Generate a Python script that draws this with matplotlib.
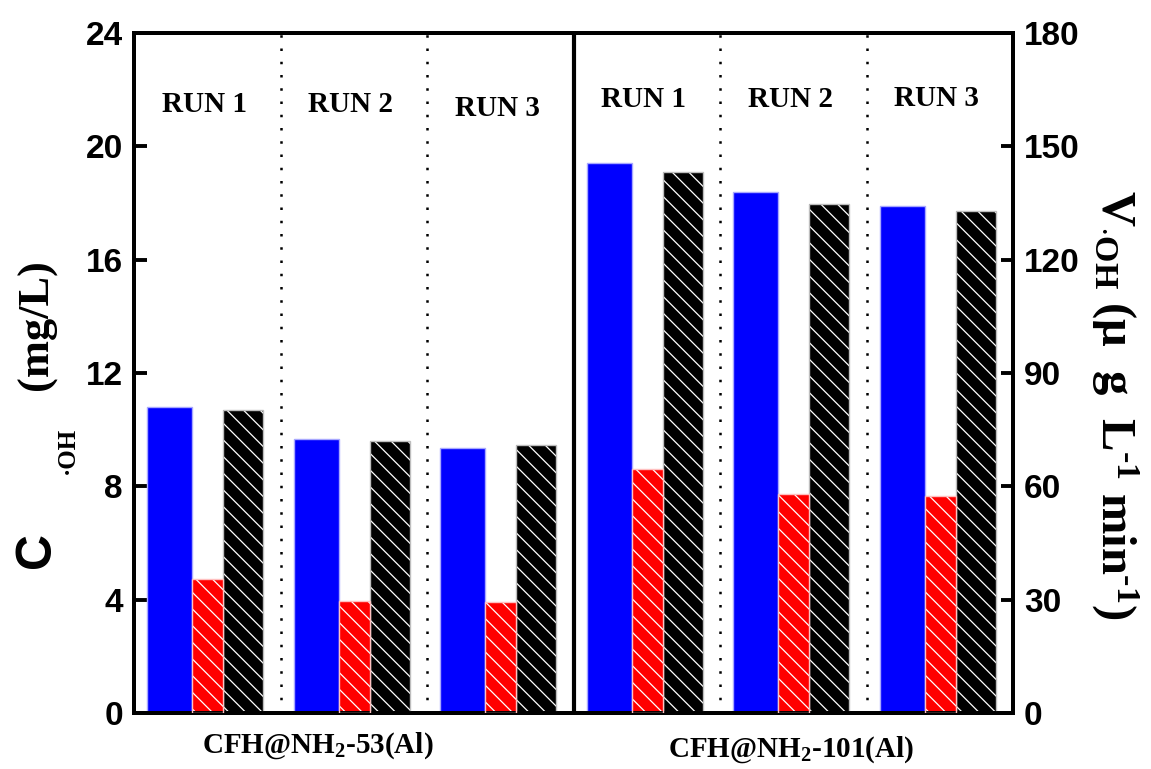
import matplotlib.pyplot as plt
import numpy as np

plt.rcParams['font.family'] = 'Liberation Sans'
plt.rcParams['font.weight'] = 'bold'
plt.rcParams['mathtext.fontset'] = 'custom'
plt.rcParams['mathtext.rm'] = 'Liberation Serif:bold'
plt.rcParams['mathtext.it'] = 'Liberation Serif:bold'
plt.rcParams['mathtext.bf'] = 'Liberation Serif:bold'
plt.rcParams['hatch.linewidth'] = 0.9

runs = ['RUN 1', 'RUN 2', 'RUN 3', 'RUN 1', 'RUN 2', 'RUN 3']
materials = ['CFH@NH$_2$-53(Al)', 'CFH@NH$_2$-101(Al)']
conc_blue = [10.80, 9.67, 9.34, 19.40, 18.40, 17.90]    # mg/L
conc_black = [10.70, 9.61, 9.46, 19.08, 17.97, 17.72]   # mg/L
rate_red = [35.5, 29.6, 29.5, 64.6, 58.1, 57.5]         # ug L-1 min-1

W, H = 1151, 769
fig = plt.figure(figsize=(W / 100, H / 100), dpi=100)
ax = fig.add_axes([134 / W, 1 - 713 / H, (1013 - 134) / W, (713 - 33) / H])
ax2 = ax.twinx()

x = np.arange(len(runs))
serif = 'Liberation Serif'

ax.bar(x + 0.089, conc_blue, width=0.307, align='edge', color='#0000ff',
       edgecolor='#a8a8ff', linewidth=1.0, zorder=2)

# hatched bars: white hatch first, then a grey outline on top
ax.bar(x + 0.608, conc_black, width=0.273, align='edge', color='black',
       edgecolor='white', hatch='\\\\', linewidth=0, zorder=2)
ax.bar(x + 0.608, conc_black, width=0.273, align='edge', fill=False,
       edgecolor='#bdbdbd', linewidth=1.0, zorder=3)
ax2.bar(x + 0.396, rate_red, width=0.212, align='edge', color='#ff0000',
        edgecolor='white', hatch='\\\\', linewidth=0, zorder=2)
ax2.bar(x + 0.396, rate_red, width=0.212, align='edge', fill=False,
        edgecolor='#ffc0c0', linewidth=1.0, zorder=3)

# run separators
for xs in [1, 2, 4, 5]:
    ax.axvline(xs, color='black', linestyle=(0, (1, 4.3)), linewidth=1.8, zorder=1)
ax.axvline(3, color='black', linewidth=3, zorder=4)

ax.set_xlim(0, 6)
ax.set_ylim(0, 24)
ax2.set_ylim(0, 180)
ax.set_yticks(np.arange(0, 25, 4))
ax2.set_yticks(np.arange(0, 181, 30))
ax.set_xticks([])

for a in (ax, ax2):
    for s in a.spines.values():
        s.set_linewidth(2.8)
ax.tick_params(axis='y', direction='in', length=9, width=2.8, labelsize=24, pad=8)
ax2.tick_params(axis='y', direction='in', length=9, width=2.8, labelsize=24, pad=8)

run_y = [21.46, 21.46, 21.35, 21.64, 21.64, 21.7]
for i, r in enumerate(runs):
    ax.text(i + 0.48, run_y[i], r, family=serif, fontsize=21, fontweight='bold',
            ha='center', va='center')

# group names under the axis
fig.text(318 / W, 1 - 746 / H, materials[0], family=serif, fontsize=21,
         fontweight='bold', ha='center', va='center')
fig.text(791 / W, 1 - 750 / H, materials[1], family=serif, fontsize=21,
         fontweight='bold', ha='center', va='center')

# left axis title built from pieces
fig.text(37 / W, 1 - 550 / H, 'C', fontsize=36, fontweight='bold',
         rotation=90, ha='center', va='center')
fig.text(67 / W, 1 - 450 / H, '\u00b7OH', family=serif, fontsize=18,
         fontweight='bold', rotation=90, ha='center', va='center')
fig.text(37 / W, 1 - 325 / H, '(mg/L)', family=serif, fontsize=32,
         fontweight='bold', rotation=90, ha='center', va='center')

# right axis title
fig.text(1115 / W, 1 - 405 / H,
         r'V$_{\cdot \mathrm{OH}}$ ($\mathrm{\mu}$  g  L$^{\text{-1}}$ min$^{\text{-1}}$)',
         family=serif, fontsize=35, fontweight='bold', rotation=270,
         ha='center', va='center')

fig.savefig('out.png', dpi=100)
